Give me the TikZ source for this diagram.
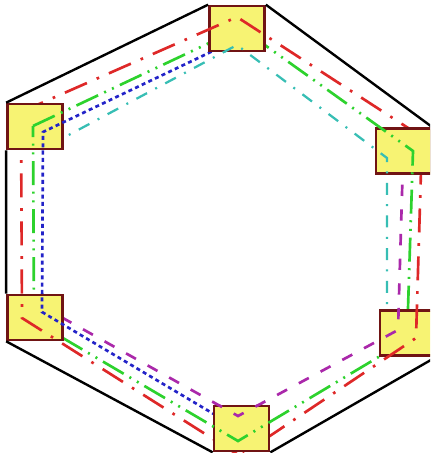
\documentclass[tikz,border=0pt]{standalone}
\usepackage{tikz}
\usetikzlibrary{calc}

\definecolor{boxfill}{RGB}{247,243,115}
\definecolor{boxedge}{RGB}{112,20,20}
\definecolor{pathred}{RGB}{222,40,40}
\definecolor{pathgreen}{RGB}{45,210,45}
\definecolor{pathblue}{RGB}{35,35,200}
\definecolor{pathcyan}{RGB}{55,190,180}
\definecolor{pathmagenta}{RGB}{170,40,170}

\begin{document}
\begin{tikzpicture}[x=0.75pt, y=-0.75pt,
  router/.style={draw=boxedge, fill=boxfill, line width=2pt, inner sep=0pt,
                 minimum width=41.25pt, minimum height=33.75pt},
  ring/.style={line width=1.8pt},
  redroute/.style={pathred, line width=2pt, dash pattern=on 18pt off 8pt on 2pt off 8pt},
  greenroute/.style={pathgreen, line width=2pt, dash pattern=on 18pt off 5pt on 1.5pt off 5pt on 1.5pt off 5pt},
  blueroute/.style={pathblue, line width=2pt, dash pattern=on 3pt off 2.5pt},
  cyanroute/.style={pathcyan, line width=1.7pt, dash pattern=on 9pt off 7pt on 1.5pt off 7pt},
  magentaroute/.style={pathmagenta, line width=2pt, dash pattern=on 8.5pt off 10pt}]
  \useasboundingbox (0,0) rectangle (430,453);
  \clip (0,0) rectangle (430,453);

  \def\redring{(21,112) -- (237,17) -- (422,137) -- (416,338) -- (240,456) -- (22,318) -- cycle}
  \def\greenring{(33,126) -- (241,28) -- (413,151) -- (407,340) -- (238,441) -- (34,321) -- cycle}
  \def\bluelink{(238,39) -- (43,132) -- (42,312) -- (239,429)}
  \def\cyanlink{(50,145) -- (237,45) -- (387,158) -- (387,330)}
  \def\magentalink{(403,160) -- (398,330) -- (238,416) -- (45,308)}
  \def\showin#1#2#3{\begin{scope}
      \clip (#1.south west) rectangle (#1.north east);
      \draw[#2] #3;
    \end{scope}}

  \draw[redroute] \redring;
  \draw[greenroute] \greenring;
  \draw[blueroute] \bluelink;
  \draw[cyanroute] \cyanlink;
  \draw[magentaroute] \magentalink;

  \node[router] (tl) at (35,126.5) {};
  \node[router] (t)  at (237,28.5) {};
  \node[router] (r)  at (403.5,151) {};
  \node[router] (br) at (407.5,333) {};
  \node[router] (b)  at (241.5,428.5) {};
  \node[router] (bl) at (35,317.5) {};

  \draw[ring] (tl.north west) -- (t.north west) (t.north east) -- (r.north east)
    (r.south east) -- (br.north east) (br.south east) -- (b.south east)
    (b.south west) -- (bl.south west) (bl.north west) -- (tl.south west);

  % routes passing through a node
  \showin{tl}{greenroute}{\greenring}
  \showin{tl}{blueroute}{\bluelink}
  \showin{t}{redroute}{\redring}
  \showin{t}{cyanroute}{\cyanlink}
  \showin{r}{greenroute}{\greenring}
  \showin{r}{cyanroute}{\cyanlink}
  \showin{br}{redroute}{\redring}
  \showin{br}{magentaroute}{\magentalink}
  \showin{b}{greenroute}{\greenring}
  \showin{b}{magentaroute}{\magentalink}
  \showin{bl}{redroute}{\redring}
  \showin{bl}{blueroute}{\bluelink}
\end{tikzpicture}
\end{document}
